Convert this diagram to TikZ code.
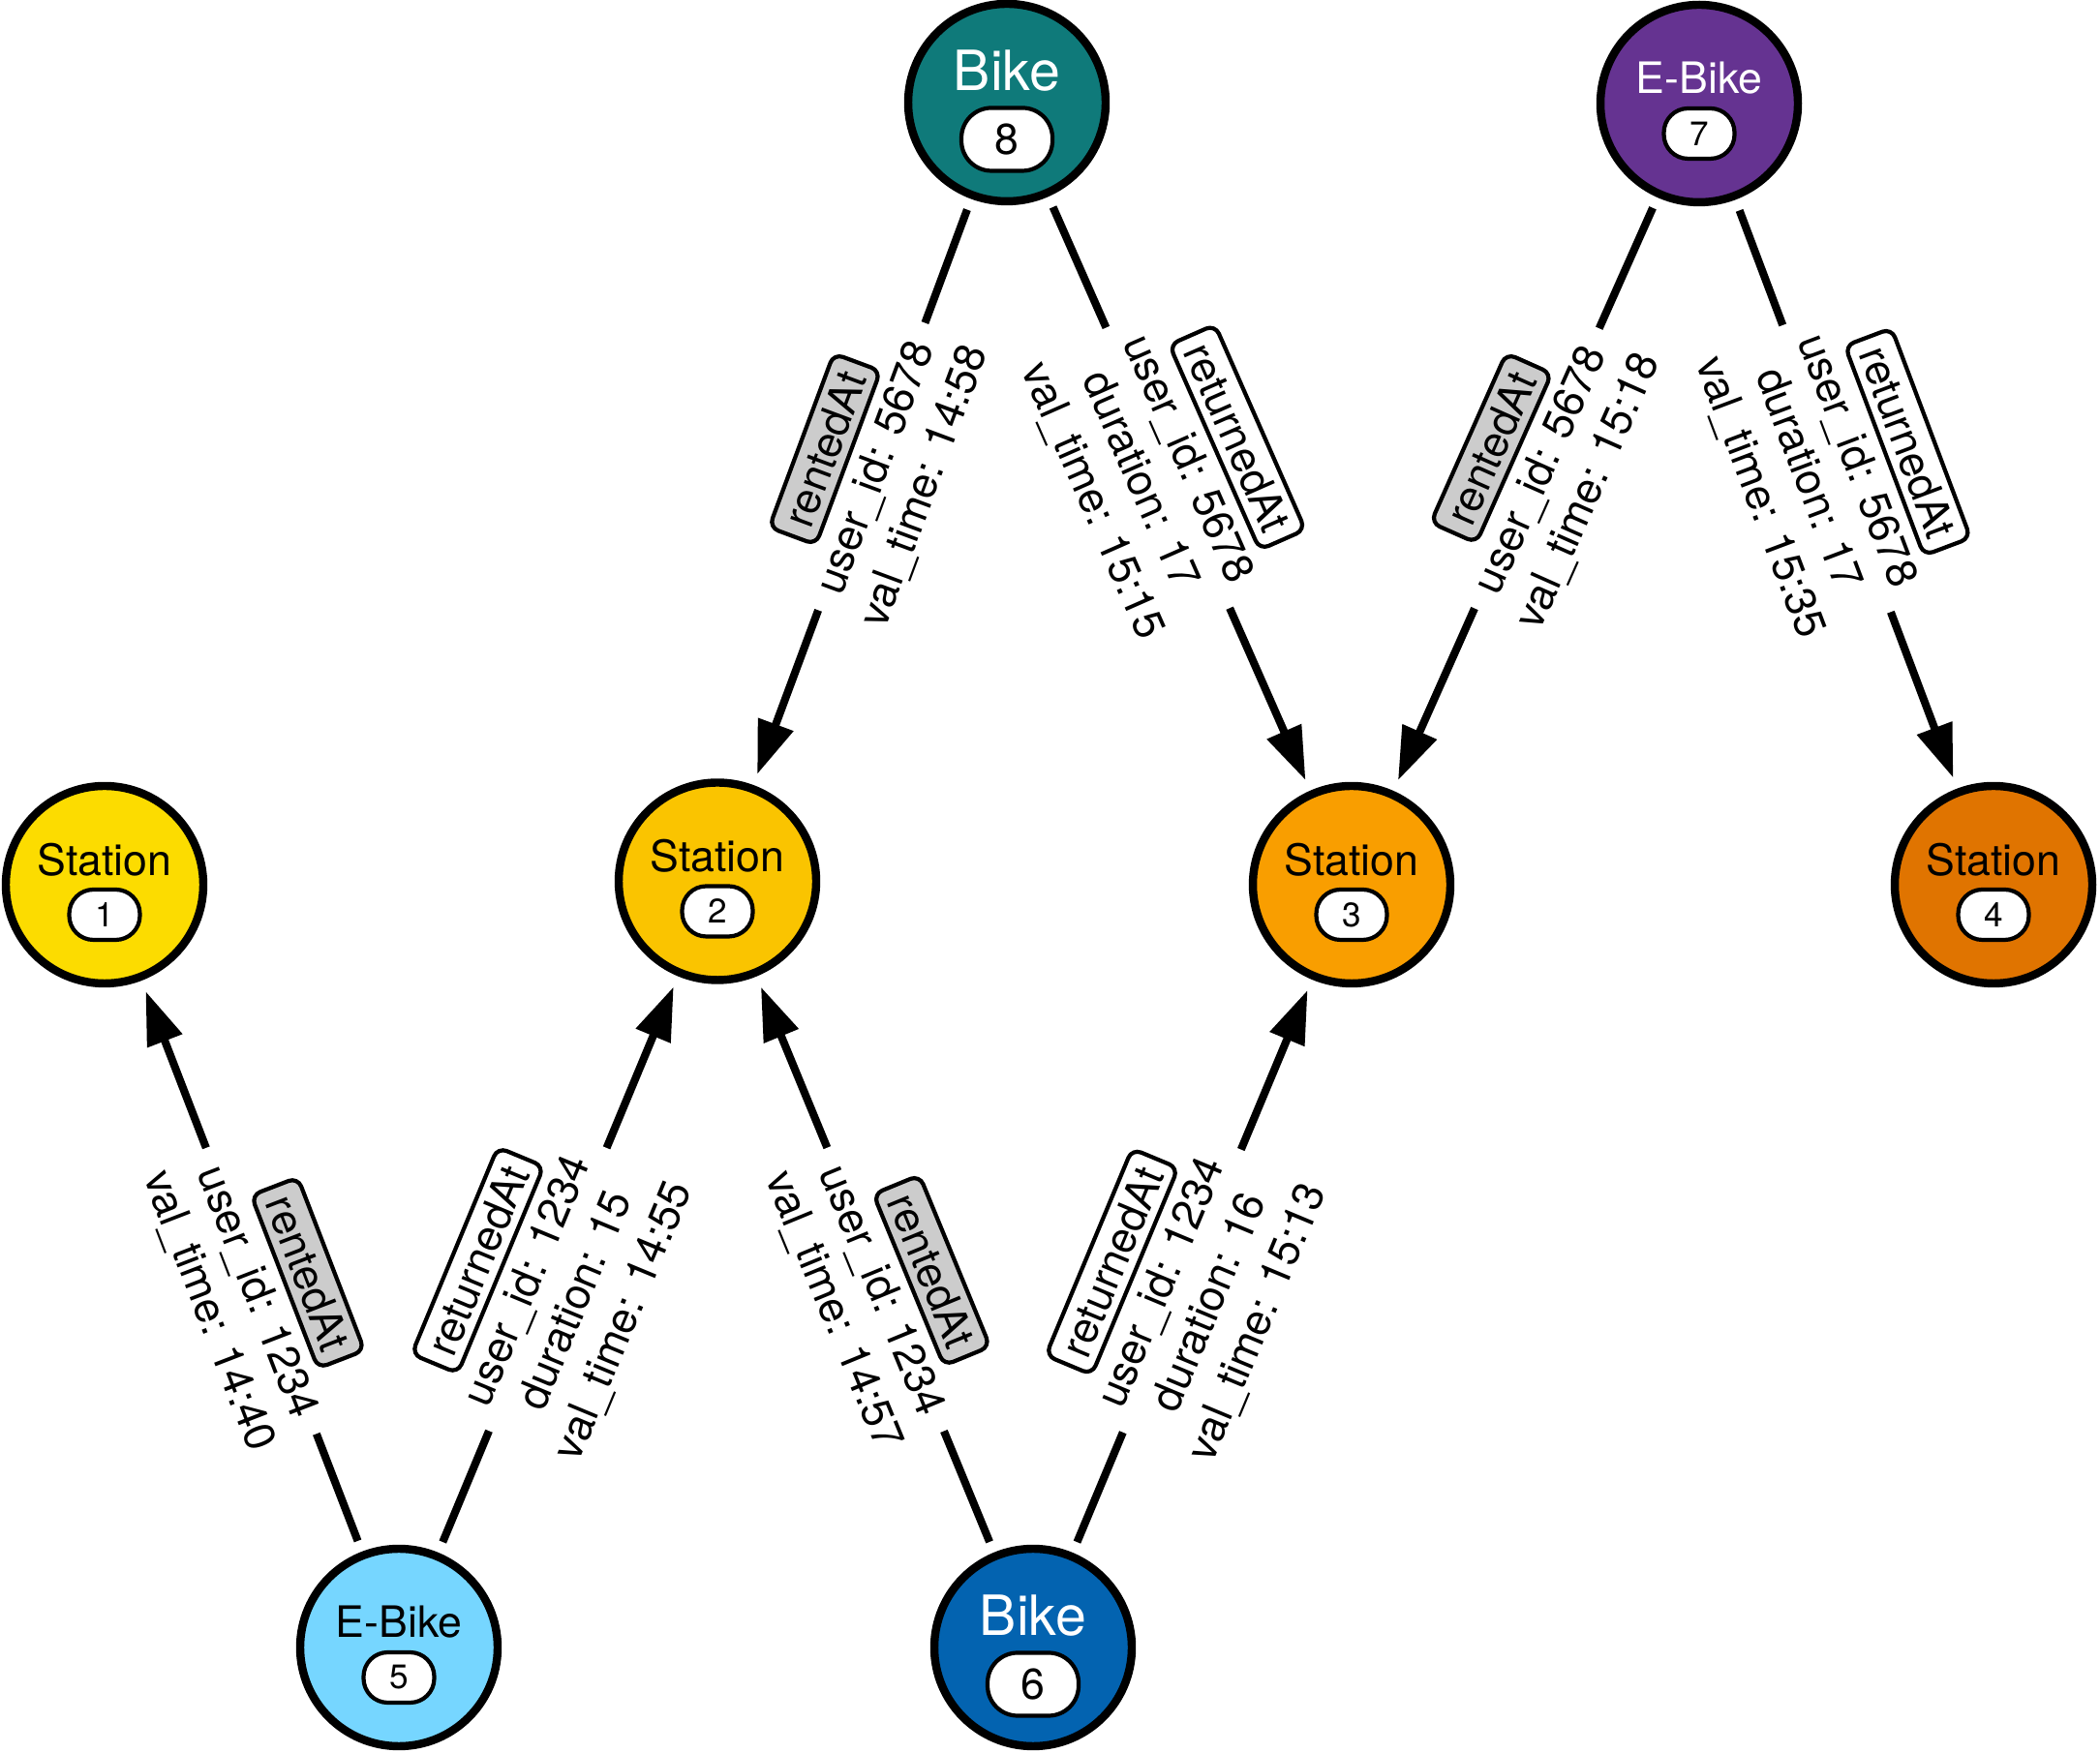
\documentclass[tikz,border=0pt]{standalone}
\usepackage{fontspec}
\setmainfont{TeX Gyre Heros}
\usepackage{xcolor}
\usepackage{tikz}
\usetikzlibrary{arrows.meta,calc,positioning}
\definecolor{stationA}{RGB}{252,220,0}
\definecolor{stationB}{RGB}{250,196,0}
\definecolor{stationC}{RGB}{249,158,0}
\definecolor{stationD}{RGB}{224,116,0}
\definecolor{bikeTeal}{RGB}{15,122,122}
\definecolor{bikeBlue}{RGB}{3,99,176}
\definecolor{ebikePurple}{RGB}{101,51,145}
\definecolor{ebikeSky}{RGB}{118,214,255}
\definecolor{tagGrey}{RGB}{204,204,204}
\newcommand{\SmallFont}{\fontsize{12.7}{15.24}\selectfont}
\newcommand{\BigFont}{\fontsize{16.3}{19.5}\selectfont}
\tikzset{
  entity/.style={circle, draw, line width=2.4pt, minimum size=2.04cm, inner sep=0pt, outer sep=0.16cm},
  kinds/.style={inner sep=0pt, font=\SmallFont, yshift=0.26cm},   % Station, E-Bike
  kindb/.style={inner sep=0pt, font=\BigFont, yshift=0.33cm},     % Bike
  badge/.style={draw, fill=white, text=black, line width=1.2pt, inner sep=0pt},
  badges/.style={badge, rounded corners=0.25cm, minimum width=0.73cm, minimum height=0.52cm,
    font=\fontsize{10}{12}\selectfont, yshift=-0.31cm},
  badgeb/.style={badge, rounded corners=0.31cm, minimum width=0.94cm, minimum height=0.65cm,
    font=\fontsize{12.7}{15}\selectfont, yshift=-0.38cm},
  relation/.style={-{Triangle[length=0.55cm,width=0.37cm]}, line width=2.3pt},
  props/.style={sloped, pos=0.455, fill=white, align=center, font=\SmallFont, inner sep=1.5pt},
  tagbox/.style={draw, line width=1.2pt, rounded corners=0.1cm, inner xsep=3.5pt, inner ysep=2.6pt, font=\SmallFont}
}
\newcommand{\Entity}[7]{% #1=name, #2=position, #3=fill, #4=text colour, #5=kind, #6=number, #7=size (s/b)
  \node[entity, fill=#3] (#1) at (#2) {};
  \node[kind#7, text=#4] (#1k) at (#1.center) {#5};
  \node[badge#7] (#1n) at (#1.center) {#6};
}
\newcommand{\Tag}[2]{% #1=fill, #2=relation name
  \tikz[baseline=(tg.base)]\node[tagbox, fill=#1] (tg) {#2};%
}
\newcommand{\Relation}[5]{% #1=from, #2=to, #3=tag fill, #4=relation name, #5=properties
  \draw[relation] (#1) -- node[props] (#1#2) {\Tag{#3}{#4}\\#5} (#2);
}

\begin{document}
\begin{tikzpicture}
  \useasboundingbox (0,0) rectangle (21.69,18.11);
  % stations
  \Entity{st1}{1.08,8.97}{stationA}{black}{Station}{1}{s}
  \Entity{st2}{7.41,9.005}{stationB}{black}{Station}{2}{s}
  \Entity{st3}{13.96,8.97}{stationC}{black}{Station}{3}{s}
  \Entity{st4}{20.59,8.97}{stationD}{black}{Station}{4}{s}
  % bikes
  \Entity{eb5}{4.12,1.09}{ebikeSky}{black}{E-Bike}{5}{s}
  \Entity{bk6}{10.67,1.09}{bikeBlue}{white}{Bike}{6}{b}
  \Entity{eb7}{17.55,17.04}{ebikePurple}{white}{E-Bike}{7}{s}
  \Entity{bk8}{10.40,17.05}{bikeTeal}{white}{Bike}{8}{b}
  % rentals and returns
  \Relation{eb5}{st1}{tagGrey}{rentedAt}{user\_id: 1234\\val\_time: 14:40}
  \Relation{eb5}{st2}{white}{returnedAt}{user\_id: 1234\\duration: 15\\val\_time: 14:55}
  \Relation{bk6}{st2}{tagGrey}{rentedAt}{user\_id: 1234\\val\_time: 14:57}
  \Relation{bk6}{st3}{white}{returnedAt}{user\_id: 1234\\duration: 16\\val\_time: 15:13}
  \Relation{bk8}{st2}{tagGrey}{rentedAt}{user\_id: 5678\\val\_time: 14:58}
  \Relation{bk8}{st3}{white}{returnedAt}{user\_id: 5678\\duration: 17\\val\_time: 15:15}
  \Relation{eb7}{st3}{tagGrey}{rentedAt}{user\_id: 5678\\val\_time: 15:18}
  \Relation{eb7}{st4}{white}{returnedAt}{user\_id: 5678\\duration: 17\\val\_time: 15:35}
\end{tikzpicture}
\end{document}
